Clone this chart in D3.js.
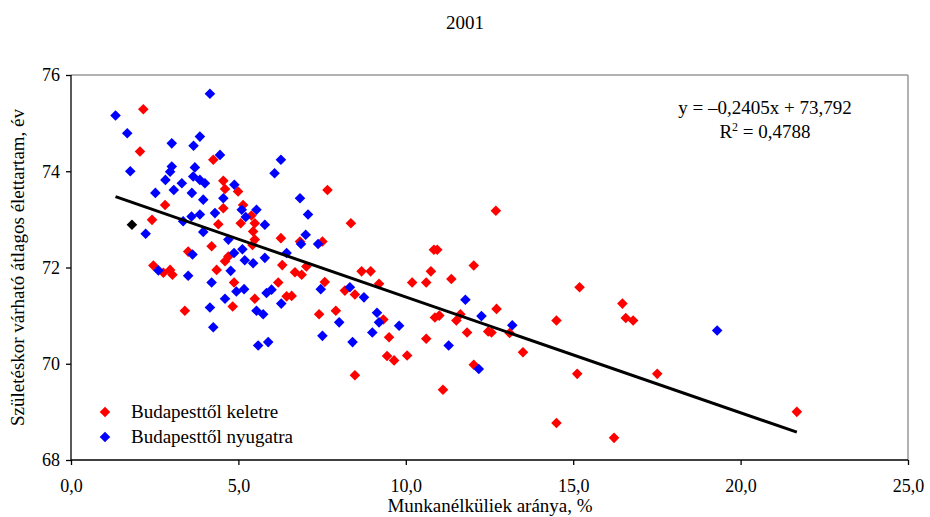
<!DOCTYPE html>
<html><head><meta charset="utf-8">
<script src="https://cdn.jsdelivr.net/npm/d3@7"></script>
<style>body{margin:0;background:#fff}svg text{font-family:"Liberation Serif","Times New Roman",serif;fill:#000}</style>
</head><body><svg id="c" width="930" height="517"></svg>
<script>
const title = "2001";
const xTicks = [0, 5, 10, 15, 20, 25];
const yTicks = [68, 70, 72, 74, 76];
const seriesNames = ["Budapesttől keletre", "Budapesttől nyugatra"];
const slope = -0.2405, intercept = 73.792;
const trendX = [1.33, 21.68];
const eastX = [2.16,2.06,4.25,4.55,4.60,4.99,5.14,4.55,5.39,5.49,5.44,5.49,5.42,2.81,2.42,4.40,5.07,6.27,4.20,3.50,4.70,4.60,2.46,2.76,2.96,3.03,4.35,4.87,5.49,4.83,3.40,6.19,6.31,6.44,6.59,7.66,8.36,6.84,7.51,10.84,10.94,12.03,7.03,8.68,8.95,6.69,6.89,7.58,7.41,7.91,8.18,8.48,9.20,9.33,9.50,9.44,9.65,10.04,8.48,10.19,10.61,10.75,11.36,10.87,11.00,11.51,11.63,11.83,10.61,12.03,11.11,12.46,12.71,12.56,13.10,13.50,15.19,14.50,15.12,14.50,16.22,16.47,16.57,16.79,17.51,21.68,12.69];
const eastY = [75.29,74.41,74.24,73.80,73.63,73.58,73.30,73.23,73.08,72.92,72.75,72.58,72.47,73.30,72.99,72.90,72.92,72.61,72.44,72.33,72.23,72.13,72.04,71.89,71.95,71.85,71.95,71.69,71.35,71.19,71.10,71.69,72.05,71.40,71.41,73.61,72.92,72.54,72.54,72.37,72.37,72.04,72.02,71.92,71.92,71.90,71.85,71.70,71.03,71.10,71.52,71.44,71.66,70.92,70.55,70.16,70.07,70.17,69.76,71.69,71.69,71.92,71.76,70.96,71.00,70.90,71.03,70.65,70.52,69.98,69.46,70.67,71.14,70.65,70.64,70.24,71.59,70.90,69.79,68.77,68.46,71.25,70.95,70.90,69.79,69.00,73.18];
const westX = [4.15,1.33,1.68,3.01,3.85,3.66,4.45,6.27,6.08,1.77,3.01,2.96,2.82,3.70,3.65,3.85,4.00,3.31,3.07,2.52,3.61,3.95,4.88,4.55,5.10,5.54,4.30,3.85,3.60,3.35,5.79,3.95,4.70,2.23,5.12,4.87,5.19,5.44,5.79,6.44,3.63,2.61,3.50,4.77,4.20,4.94,5.17,4.60,4.15,4.25,5.54,5.74,5.84,5.99,6.28,5.59,5.89,6.84,7.08,7.01,6.87,7.38,7.46,7.51,8.01,8.33,8.75,8.41,9.14,9.20,9.00,9.80,11.78,12.26,11.28,12.18,13.18,19.30,5.22];
const westY = [75.61,75.16,74.79,74.58,74.72,74.53,74.34,74.24,73.96,74.00,74.10,73.99,73.82,74.08,73.89,73.82,73.75,73.75,73.61,73.55,73.55,73.41,73.72,73.44,73.20,73.20,73.13,73.10,73.06,72.96,72.89,72.74,72.58,72.70,72.38,72.30,72.15,72.09,72.20,72.30,72.27,71.94,71.83,71.93,71.69,71.50,71.55,71.35,71.17,70.76,71.10,71.03,71.47,71.54,71.25,70.38,70.45,73.44,73.10,72.68,72.49,72.49,71.55,70.58,70.86,71.59,71.38,70.45,71.06,70.86,70.65,70.79,71.33,70.99,70.38,69.89,70.80,70.69,73.05];
const capitalX = [1.82];
const capitalY = [72.89];

const svg = d3.select("#c");
const L = 71, R = 908, T = 75, B = 460;
const x = d3.scaleLinear().domain([0, 25]).range([L, R]);
const y = d3.scaleLinear().domain([68, 76]).range([B, T]);
const fmt = d => d3.format(".1f")(d).replace(".", ",");
const FS = 19;

svg.append("text").attr("x", 465).attr("y", 29).attr("text-anchor", "middle").attr("font-size", FS).text(title);

svg.append("line").attr("x1", L).attr("x2", R).attr("y1", T).attr("y2", T).attr("stroke", "#999").attr("stroke-width", 1.5);
svg.append("line").attr("x1", R).attr("x2", R).attr("y1", T).attr("y2", B).attr("stroke", "#999").attr("stroke-width", 1.5);

const gx = svg.append("g").attr("transform", `translate(0,${B})`)
  .call(d3.axisBottom(x).tickValues(xTicks).tickSize(5).tickPadding(14).tickFormat(fmt));
const gy = svg.append("g").attr("transform", `translate(${L},0)`)
  .call(d3.axisLeft(y).tickValues(yTicks).tickSize(5).tickPadding(6).tickFormat(d3.format("d")));
[gx, gy].forEach(g => {
  g.selectAll("path,line").attr("stroke", "#000").attr("stroke-width", 1.3);
  g.selectAll("text").attr("font-family", "Liberation Serif").attr("font-size", 18).attr("fill", "#000");
});
gx.select(".domain").attr("d", `M${L},0H${R}`);
gy.select(".domain").attr("d", `M0,${B}V${T}`);

svg.append("text").attr("x", 490).attr("y", 512).attr("text-anchor", "middle").attr("font-size", FS).text("Munkanélküliek aránya, %");
svg.append("text").attr("transform", `translate(24,${(T + B) / 2}) rotate(-90)`).attr("text-anchor", "middle").attr("font-size", FS).text("Születéskor várható átlagos élettartam, év");

const diamond = d3.symbol().type(d3.symbolSquare).size(56);
function pts(xs, ys, color) {
  svg.append("g").selectAll("path").data(xs.map((v, i) => [v, ys[i]])).join("path")
    .attr("d", diamond).attr("fill", color)
    .attr("transform", d => `translate(${x(d[0])},${y(d[1])}) rotate(45)`);
}
pts(eastX, eastY, "#ff0000");
pts(westX, westY, "#0000ff");
pts(capitalX, capitalY, "#000000");

svg.append("line")
  .attr("x1", x(trendX[0])).attr("y1", y(intercept + slope * trendX[0]))
  .attr("x2", x(trendX[1])).attr("y2", y(intercept + slope * trendX[1]))
  .attr("stroke", "#000").attr("stroke-width", 3);

const eq = svg.append("g").attr("text-anchor", "middle").attr("font-size", FS);
eq.append("text").attr("x", 765).attr("y", 114).text("y = –0,2405x + 73,792");
const r2 = eq.append("text").attr("x", 765).attr("y", 138);
r2.append("tspan").text("R");
r2.append("tspan").attr("font-size", 12).attr("dy", -7).text("2");
r2.append("tspan").attr("dy", 7).text(" = 0,4788");

const leg = svg.append("g");
[["#ff0000", 412], ["#0000ff", 437]].forEach((c, i) => {
  leg.append("path").attr("d", diamond).attr("fill", c[0]).attr("transform", `translate(105,${c[1]}) rotate(45)`);
  leg.append("text").attr("x", 131).attr("y", c[1] + 6).attr("font-size", FS).text(seriesNames[i]);
});
</script></body></html>
